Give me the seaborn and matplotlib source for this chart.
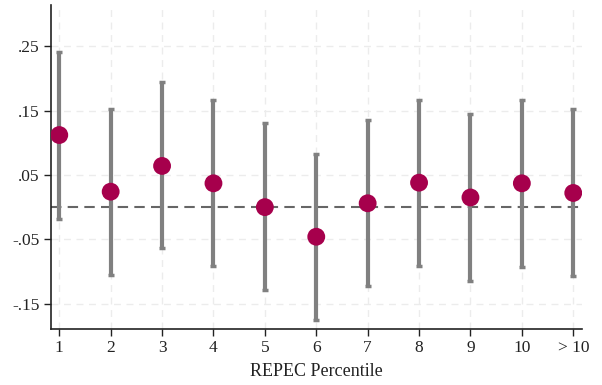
import matplotlib
matplotlib.use("Agg")
import matplotlib.pyplot as plt
import seaborn as sns
import numpy as np
import pandas as pd

categories = ["1", "2", "3", "4", "5", "6", "7", "8", "9", "10", "> 10"]
estimates = [0.112, 0.024, 0.064, 0.037, 0.000, -0.046, 0.006, 0.038, 0.015, 0.037, 0.022]
ci_low = [-0.018, -0.106, -0.064, -0.092, -0.129, -0.175, -0.123, -0.091, -0.115, -0.093, -0.107]
ci_high = [0.241, 0.153, 0.195, 0.167, 0.130, 0.083, 0.136, 0.167, 0.144, 0.166, 0.152]
y_ticks = [-0.15, -0.05, 0.05, 0.15, 0.25]
y_tick_labels = ["-.15", "-.05", ".05", ".15", ".25"]

df = pd.DataFrame({
    "pos": np.arange(len(categories)),
    "category": categories,
    "estimate": estimates,
    "lo": ci_low,
    "hi": ci_high,
})

sns.set_theme(style="white")
plt.rcParams["font.family"] = ["Liberation Serif", "DejaVu Serif"]

fig = plt.figure(figsize=(6.02, 3.85), dpi=100)
ax = fig.add_axes([0.0842, 0.146, 0.883, 0.841])

# dashed grid
for y in y_ticks:
    ax.axhline(y, color="#ececec", lw=1, ls=(0, (5, 4)), zorder=0)
for x in df["pos"]:
    ax.axvline(x, color="#ececec", lw=1, ls=(0, (5, 4)), zorder=0)

# reference line at zero
ax.axhline(0, color="#666666", lw=1.5, ls=(0, (5, 3)), zorder=1)

# confidence intervals
ax.errorbar(df["pos"], df["estimate"],
            yerr=[df["estimate"] - df["lo"], df["hi"] - df["estimate"]],
            fmt="none", ecolor="#808080", elinewidth=3, capsize=2.5, capthick=2.5, zorder=2)

# point estimates
sns.scatterplot(data=df, x="pos", y="estimate", ax=ax, color="#a6004c",
                s=165, edgecolor="none", zorder=3, legend=False)

ax.set_xlim(-0.167, 10.175)
ax.set_ylim(-0.189, 0.314)
ax.set_xticks(df["pos"])
ax.set_xticklabels(categories)
ax.set_yticks(y_ticks)
ax.set_yticklabels(y_tick_labels)
ax.set_xlabel("REPEC Percentile", fontsize=13, color="#222222", labelpad=5)
ax.set_ylabel("")

for s in ["top", "right"]:
    ax.spines[s].set_visible(False)
for s in ["left", "bottom"]:
    ax.spines[s].set_color("#222222")
    ax.spines[s].set_linewidth(1.2)

ax.tick_params(axis="both", which="major", length=5, width=1, color="#222222",
               labelsize=12.5, labelcolor="#222222", direction="out", bottom=True, left=True, pad=3)

fig.savefig("out.png", dpi=100, facecolor="white")
